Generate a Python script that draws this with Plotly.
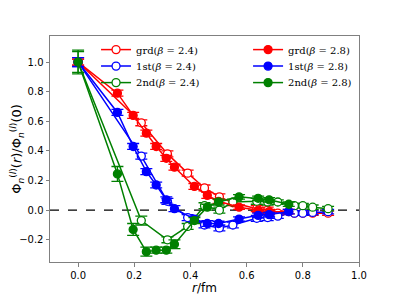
import plotly.graph_objects as go

# beta = 2.4 (open markers)
r_24 = [0.0, 0.225, 0.318, 0.39, 0.45, 0.503, 0.551, 0.636, 0.675, 0.711, 0.77, 0.80, 0.835, 0.89]
grd_24 = [1.0, 0.59, 0.38, 0.25, 0.15, 0.09, 0.05, 0.01, 0.0, -0.02, -0.02, -0.02, -0.02, -0.02]
grd_24_err = [0.02, 0.02, 0.02, 0.02, 0.02, 0.02, 0.02, 0.02, 0.02, 0.015, 0.015, 0.015, 0.015, 0.015]
st1_24 = [1.0, 0.365, 0.06, -0.05, -0.10, -0.12, -0.10, -0.055, -0.05, -0.04, -0.02, -0.02, -0.015, -0.01]
st1_24_err = [0.03, 0.02, 0.02, 0.02, 0.02, 0.02, 0.02, 0.02, 0.02, 0.015, 0.015, 0.015, 0.015, 0.015]
st2_24 = [1.0, -0.07, -0.20, -0.11, 0.03, 0.0, 0.055, 0.06, 0.055, 0.055, 0.03, 0.03, 0.02, 0.01]
st2_24_err = [0.07, 0.03, 0.02, 0.02, 0.02, 0.02, 0.02, 0.02, 0.02, 0.015, 0.015, 0.015, 0.015, 0.015]

# beta = 2.8 (filled markers)
r_28 = [0.0, 0.14, 0.196, 0.243, 0.278, 0.314, 0.343, 0.414, 0.46, 0.50, 0.573, 0.641, 0.68, 0.75]
grd_28 = [1.0, 0.79, 0.64, 0.52, 0.43, 0.35, 0.29, 0.16, 0.10, 0.06, 0.02, 0.0, -0.01, -0.01]
grd_28_err = [0.02, 0.02, 0.02, 0.02, 0.02, 0.02, 0.02, 0.02, 0.02, 0.015, 0.015, 0.015, 0.015, 0.015]
st1_28 = [1.0, 0.66, 0.43, 0.26, 0.17, 0.07, 0.01, -0.06, -0.09, -0.09, -0.06, -0.035, -0.03, -0.01]
st1_28_err = [0.03, 0.02, 0.02, 0.02, 0.02, 0.02, 0.02, 0.02, 0.02, 0.015, 0.015, 0.015, 0.015, 0.015]
st2_28 = [1.0, 0.245, -0.13, -0.28, -0.27, -0.27, -0.23, -0.07, 0.02, 0.055, 0.09, 0.08, 0.07, 0.04]
st2_28_err = [0.08, 0.05, 0.04, 0.03, 0.02, 0.02, 0.03, 0.02, 0.02, 0.02, 0.015, 0.015, 0.015, 0.015]

labels = ["grd(<i>β</i> = 2.4)", "1st(<i>β</i> = 2.4)", "2nd(<i>β</i> = 2.4)",
          "grd(<i>β</i> = 2.8)", "1st(<i>β</i> = 2.8)", "2nd(<i>β</i> = 2.8)"]
colors = ["#ff0000", "#0000ff", "#008000"]

series = [
    (r_24, grd_24, grd_24_err, 0, False),
    (r_24, st1_24, st1_24_err, 1, False),
    (r_24, st2_24, st2_24_err, 2, False),
    (r_28, grd_28, grd_28_err, 0, True),
    (r_28, st1_28, st1_28_err, 1, True),
    (r_28, st2_28, st2_28_err, 2, True),
]

fig = go.Figure()
for i, (x, y, e, c, filled) in enumerate(series):
    col = colors[c]
    fig.add_trace(go.Scatter(
        x=x, y=y, mode="lines+markers", name=labels[i],
        legend="legend" if i == 0 else f"legend{i + 1}",
        line=dict(color=col, width=1.5),
        marker=dict(size=8, color=col if filled else "white",
                    line=dict(color=col, width=1.3)),
        error_y=dict(type="data", array=e, visible=True, color=col,
                     thickness=1.3, width=6),
    ))

fig.add_shape(type="line", xref="paper", x0=0, x1=1, yref="y", y0=0, y1=0,
              line=dict(color="black", width=1.3, dash="dash"), layer="below")

axis_common = dict(showgrid=False, zeroline=False, showline=True, linecolor="#808080",
                   linewidth=1, mirror=True, ticks="outside", ticklen=3.5,
                   tickcolor="#808080", tickfont=dict(family="DejaVu Sans", size=10, color="black"),
                   automargin=False)
fig.update_xaxes(range=[-0.1, 1.0], tickvals=[0.0, 0.2, 0.4, 0.6, 0.8, 1.0],
                 ticktext=["0.0", "0.2", "0.4", "0.6", "0.8", "1.0"],
                 title=dict(text="<i>r</i>/fm", font=dict(family="DejaVu Sans", size=12, color="black"),
                            standoff=4),
                 **axis_common)
fig.update_yaxes(range=[-0.35, 1.176], tickvals=[-0.2, 0.0, 0.2, 0.4, 0.6, 0.8, 1.0],
                 ticktext=["−0.2", "0.0", "0.2", "0.4", "0.6", "0.8", "1.0"],
                 title=dict(text="Φ<sub><i>n</i></sub><sup>(<i>l</i>)</sup>(<i>r</i>)/Φ<sub><i>n</i></sub><sup>(<i>l</i>)</sup>(0)",
                            font=dict(family="DejaVu Sans", size=13, color="black"), standoff=3),
                 **axis_common)

leg_common = dict(xanchor="left", yanchor="top", bgcolor="rgba(0,0,0,0)",
                  font=dict(family="DejaVu Serif", size=10, color="black"),
                  itemwidth=30, tracegroupgap=0)
col_x = [0.149, 0.641]
row_y = [1.004, 0.931, 0.858]
legends = {}
for i in range(6):
    key = "legend" if i == 0 else f"legend{i + 1}"
    legends[key] = dict(x=col_x[i // 3], y=row_y[i % 3], **leg_common)

fig.update_layout(
    width=392, height=292, paper_bgcolor="white", plot_bgcolor="white",
    margin=dict(l=42, r=41, t=28, b=38, autoexpand=False),
    showlegend=True,
    **legends,
)

fig.write_html("out.html")
